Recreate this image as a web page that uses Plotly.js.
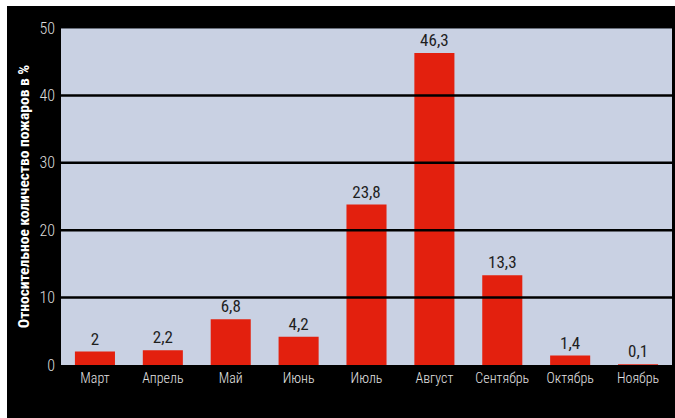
<!DOCTYPE html>
<html>
<head>
<meta charset="utf-8">
<script src="https://cdn.plot.ly/plotly-3.0.1.min.js"></script>
<style>
  html, body { margin: 0; padding: 0; background: #ffffff; }
  #chart { position: absolute; left: 7px; top: 6px; width: 668px; height: 412px; }
</style>
</head>
<body>
<div id="chart"></div>
<script>
// Fire share by month, percent of the season total
const months = ['Март', 'Апрель', 'Май', 'Июнь', 'Июль', 'Август', 'Сентябрь', 'Октябрь', 'Ноябрь'];
const shares = [2, 2.2, 6.8, 4.2, 23.8, 46.3, 13.3, 1.4, 0.1];
const yTicks = [0, 10, 20, 30, 40, 50];
const gridValues = [10, 20, 30, 40];

const narrow = '"Roboto Condensed", "Liberation Sans Narrow", "DejaVu Sans Condensed", "Arial Narrow", Roboto, sans-serif';

// value labels use a decimal comma
const labels = shares.map(v => String(v).replace('.', ','));

const trace = {
  type: 'bar',
  x: months,
  y: shares,
  text: labels,
  textposition: 'outside',
  cliponaxis: false,
  textfont: { family: narrow, size: 17, color: '#1e1e1e', weight: 400 },
  marker: { color: '#e3200e', line: { width: 0 } },
  hoverinfo: 'x+y'
};

// horizontal rules drawn over the bars
const rules = gridValues.map(v => ({
  type: 'line', xref: 'paper', yref: 'y',
  x0: 0, x1: 1, y0: v, y1: v,
  line: { color: '#000000', width: 2.5 },
  layer: 'above'
}));
// thin top edge of the plot area
rules.push({
  type: 'line', xref: 'paper', yref: 'y',
  x0: 0, x1: 1, y0: 50, y1: 50,
  line: { color: '#4a4f5a', width: 1.5 },
  layer: 'above'
});

const layout = {
  width: 668,
  height: 412,
  margin: { l: 54, r: 3, t: 22, b: 53 },
  paper_bgcolor: '#000000',
  plot_bgcolor: '#c9d1e3',
  bargap: 0.41,
  showlegend: false,
  xaxis: {
    type: 'category',
    showgrid: false,
    showline: false,
    zeroline: false,
    ticks: '',
    tickfont: { family: narrow, size: 14, color: '#e4e4e4', weight: 300 },
    ticklabelstandoff: 3
  },
  yaxis: {
    range: [0, 50],
    tickvals: yTicks,
    ticktext: yTicks.map(String),
    showgrid: false,
    zeroline: false,
    showline: false,
    ticks: '',
    ticklabelstandoff: 5,
    tickfont: { family: narrow, size: 16, color: '#dcdcdc', weight: 300 },
    title: {
      text: 'Относительное количество пожаров в %',
      font: { family: narrow, size: 15.5, color: '#ffffff', weight: 'bold' },
      standoff: 6
    }
  },
  shapes: rules
};

Plotly.newPlot('chart', [trace], layout, { staticPlot: true, displayModeBar: false });
</script>
</body>
</html>
